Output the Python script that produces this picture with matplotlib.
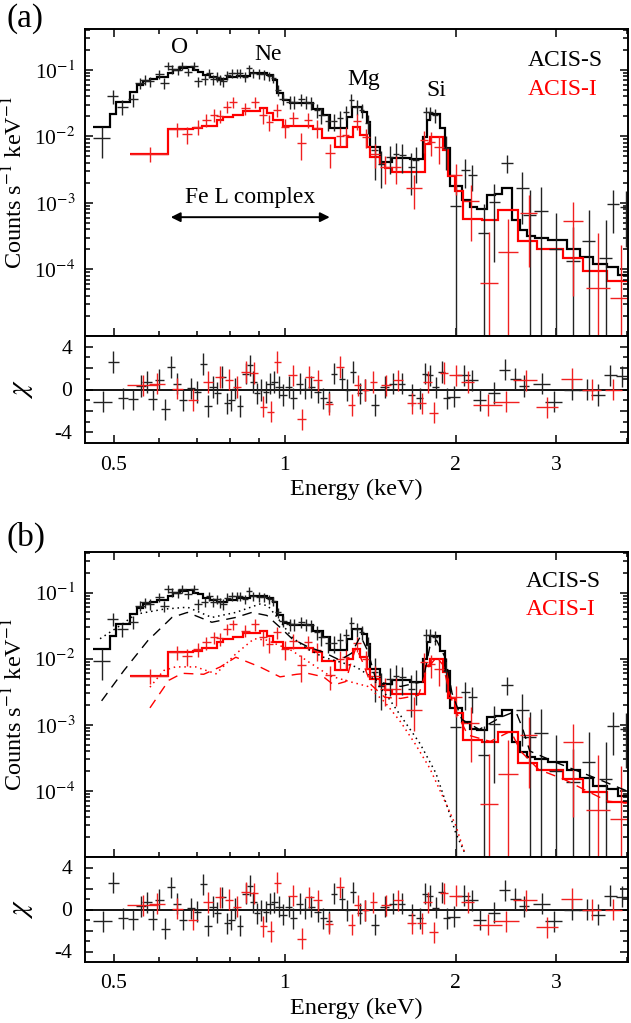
import numpy as np
import matplotlib
matplotlib.use('Agg')
import matplotlib.pyplot as plt
from matplotlib.ticker import FixedLocator, FixedFormatter, NullFormatter, LogLocator

plt.rcParams['font.family'] = ['Liberation Serif', 'DejaVu Serif']
plt.rcParams['mathtext.fontset'] = 'stix'

# ---------------- ACIS-S (black) spectrum ----------------
E_s = [0.476, 0.498, 0.518, 0.541, 0.556, 0.567, 0.578, 0.601, 0.614, 0.624, 0.634, 0.648, 0.660,
       0.675, 0.693, 0.704, 0.723, 0.737, 0.749, 0.760, 0.768, 0.780, 0.792, 0.807, 0.823, 0.835,
       0.851, 0.866, 0.880, 0.900, 0.920, 0.940, 0.955, 0.974, 0.993, 1.02, 1.04, 1.07, 1.09, 1.11,
       1.14, 1.16, 1.19, 1.22, 1.25, 1.28, 1.31, 1.34, 1.365, 1.40, 1.44, 1.48, 1.53, 1.57, 1.61,
       1.67, 1.70, 1.77, 1.80, 1.84, 1.92, 2.00, 2.08, 2.14, 2.24, 2.34, 2.46, 2.62, 2.70, 2.83,
       3.00, 3.22, 3.43, 3.67, 3.78, 3.98]
C_s = [0.0093, 0.040, 0.028, 0.036, 0.063, 0.071, 0.067, 0.086, 0.063, 0.115, 0.102, 0.098, 0.115,
       0.094, 0.115, 0.067, 0.072, 0.089, 0.072, 0.079, 0.071, 0.067, 0.084, 0.089, 0.089, 0.089,
       0.079, 0.105, 0.088, 0.087, 0.085, 0.080, 0.075, 0.050, 0.037, 0.033, 0.033, 0.036, 0.033,
       0.032, 0.025, 0.021, 0.017, 0.017, 0.019, 0.023, 0.035, 0.028, 0.025, 0.016, 0.0062, 0.0039,
       0.0049, 0.0055, 0.0052, 0.0035, 0.0044, 0.023, 0.023, 0.021, 0.0066, 0.00091, 0.0031, 0.0026,
       0.00035, 0.00103, 0.0040, 0.00168, 0.00065, 0.00076, 0.0002, 0.000135, 0.00027, 0.00015,
       0.00095, 0.00087]
S_s = [0.0045, 0.009, 0.007, 0.008, 0.011, 0.012, 0.012, 0.014, 0.012, 0.016, 0.015, 0.015, 0.016,
       0.014, 0.016, 0.012, 0.012, 0.014, 0.012, 0.013, 0.012, 0.012, 0.013, 0.014, 0.014, 0.014,
       0.013, 0.015, 0.014, 0.014, 0.014, 0.013, 0.012, 0.009, 0.007, 0.007, 0.007, 0.007, 0.007,
       0.007, 0.006, 0.0055, 0.005, 0.005, 0.005, 0.0055, 0.008, 0.007, 0.006, 0.005, 0.004, 0.0022,
       0.0022, 0.0024, 0.0024, 0.0022, 0.0024, 0.005, 0.005, 0.005, 0.0035, 0.00095, 0.0014, 0.0011,
       0.0006, 0.0009, 0.0012, 0.0012, 0.0009, 0.001, 0.0005, 0.0003, 0.0005, 0.0004, 0.0006, 0.00065]
W_s = [0.016] + [0.011] * 33 + [0.015] * 16 + [0.022] * 11 + [0.045, 0.04, 0.04, 0.05, 0.05, 0.06,
       0.07, 0.07, 0.08, 0.08, 0.09, 0.09, 0.09, 0.09, 0.09]

# model histogram (ACIS-S)
edges_s = [0.460, 0.4925, 0.505, 0.534, 0.549, 0.564, 0.579, 0.595, 0.624, 0.636, 0.654, 0.672, 0.690,
           0.704, 0.719, 0.739, 0.759, 0.790, 0.823, 0.869, 0.929, 0.955, 0.968, 0.994, 1.022, 1.123,
           1.169, 1.201, 1.286, 1.312, 1.366, 1.394, 1.413, 1.472, 1.543, 1.662, 1.754, 1.778, 1.802,
           1.876, 1.915, 1.954, 2.049, 2.120, 2.178, 2.268, 2.346, 2.410, 2.509, 2.596, 2.667, 2.758,
           2.911, 3.136, 3.310, 3.494, 3.688, 3.866, 4.02]
model_s = [0.014, 0.0217, 0.033, 0.047, 0.059, 0.067, 0.072, 0.078, 0.089, 0.098, 0.106, 0.110, 0.100,
           0.094, 0.084, 0.077, 0.072, 0.078, 0.082, 0.089, 0.084, 0.071, 0.045, 0.035, 0.032, 0.026,
           0.021, 0.0135, 0.0198, 0.028, 0.0235, 0.0167, 0.007, 0.0041, 0.0048, 0.0045, 0.0099, 0.0176,
           0.0217, 0.0132, 0.0066, 0.0018, 0.0011, 0.00087, 0.00082, 0.0013, 0.00138, 0.00166, 0.00055,
           0.00039, 0.00032, 0.0003, 0.000275, 0.000206, 0.000154, 0.00012, 0.000107, 8.3e-5]

# ---------------- ACIS-I (red) spectrum ----------------
E_i = [0.579, 0.645, 0.673, 0.703, 0.728, 0.750, 0.768, 0.792, 0.81, 0.852, 0.887, 0.916, 0.94, 0.97,
       1.0, 1.036, 1.07, 1.10, 1.14, 1.20, 1.25, 1.28, 1.34, 1.39, 1.44, 1.50, 1.57, 1.69, 1.76, 1.81,
       1.87, 2.0, 2.13, 2.29, 2.47, 2.69, 3.22, 3.56, 3.9]
C_i = [0.0055, 0.0127, 0.0108, 0.014, 0.0176, 0.021, 0.0203, 0.028, 0.033, 0.0265, 0.033, 0.021,
       0.0167, 0.025, 0.014, 0.0187, 0.0079, 0.0178, 0.0133, 0.0056, 0.010, 0.0105, 0.017, 0.0099,
       0.0055, 0.0035, 0.0035, 0.0017, 0.0088, 0.0083, 0.007, 0.0026, 0.00107, 6.3e-5, 1.8e-4, 7.1e-4,
       5.4e-4, 5.2e-5, 3.7e-5]
S_i = [0.0014, 0.003, 0.003, 0.0035, 0.004, 0.0045, 0.0045, 0.0055, 0.006, 0.0055, 0.0065, 0.0055,
       0.0045, 0.0055, 0.0045, 0.0045, 0.0035, 0.0045, 0.004, 0.0022, 0.0032, 0.0032, 0.0045, 0.0032,
       0.0022, 0.0016, 0.0016, 0.0009, 0.0032, 0.0032, 0.0032, 0.0013, 0.0008, 0.0003, 0.0004, 0.0006,
       0.0005, 0.0003, 0.0002]
W_i = [0.045, 0.02, 0.013, 0.013, 0.013, 0.012, 0.012, 0.012, 0.013, 0.015, 0.015, 0.015, 0.015,
       0.016, 0.016, 0.018, 0.018, 0.018, 0.02, 0.025, 0.02, 0.02, 0.02, 0.025, 0.03, 0.03, 0.03, 0.055,
       0.03, 0.03, 0.04, 0.05, 0.07, 0.08, 0.1, 0.09, 0.13, 0.17, 0.17]

edges_i = [0.534, 0.624, 0.690, 0.714, 0.759, 0.780, 0.812, 0.846, 0.904, 0.929, 0.955, 0.994, 1.123,
           1.161, 1.226, 1.286, 1.320, 1.357, 1.394, 1.413, 1.472, 1.502, 1.543, 1.766, 1.802, 1.902,
           1.941, 1.99, 2.063, 2.223, 2.377, 2.577, 2.777, 3.093, 3.355, 3.688, 4.02]
model_i = [0.0055, 0.0127, 0.0132, 0.0143, 0.0176, 0.0198, 0.021, 0.0243, 0.0264, 0.0222, 0.0176,
           0.0143, 0.0127, 0.0093, 0.0068, 0.0099, 0.014, 0.0105, 0.007, 0.0049, 0.0039, 0.0033, 0.0029,
           0.0078, 0.0099, 0.0062, 0.0025, 0.0015, 0.00058, 0.00055, 0.00079, 0.000266, 0.000206,
           0.00015, 9.5e-5, 6.8e-5]

# ---------------- residuals (chi) ----------------
Er_s = [0.478, 0.499, 0.519, 0.541, 0.558, 0.572, 0.586, 0.601, 0.616, 0.631, 0.647, 0.663, 0.683,
        0.702, 0.719, 0.733, 0.748, 0.761, 0.776, 0.792, 0.805, 0.819, 0.835, 0.853, 0.868, 0.881,
        0.895, 0.910, 0.928, 0.942, 0.959, 0.977, 0.993, 1.016, 1.036, 1.062, 1.087, 1.114, 1.142,
        1.170, 1.196, 1.223, 1.259, 1.289, 1.320, 1.354, 1.387, 1.442, 1.499, 1.553, 1.606, 1.672,
        1.727, 1.766, 1.799, 1.844, 1.888, 1.927, 1.983, 2.064, 2.132, 2.203, 2.333, 2.438, 2.547,
        2.635, 2.834, 2.974, 3.203, 3.40, 3.56, 3.74, 3.93]
chi_s = [-1.14, 2.56, -0.83, -0.93, 0.31, 0.71, -0.93, 0.93, -1.85, 2.1, 0.56, -0.99, 0.1, -0.22, 2.4,
         -1.54, 0.25, -0.31, 1.17, -1.3, -0.99, 0.09, -1.54, 1.48, 2.25, 0.71, -0.37, -0.06, -0.22,
         0.56, 0.71, 0.25, -0.52, 0.25, -0.83, 0.56, 0.09, 0.25, -0.22, -0.83, -1.14, 1.48, 1.02,
         -0.06, 1.64, -0.37, -0.06, -1.45, 0.25, 0.56, 0.56, -0.52, -0.83, 1.48, 1.33, 0.19, 1.64,
         -0.83, -0.68, 1.33, 0.86, -0.99, -0.31, 1.85, 1.02, 0.31, 0.56, -1.14, 0.0, 0.0, -0.52, 1.33,
         1.23]
Wr_s = [0.018] + [0.011] * 28 + [0.015] * 18 + [0.025] * 11 + [0.05] + [0.055] * 7 + [0.1] * 7

Er_i = [0.563, 0.596, 0.647, 0.690, 0.733, 0.769, 0.798, 0.824, 0.853, 0.883, 0.917, 0.944, 0.970,
        1.032, 1.072, 1.105, 1.142, 1.196, 1.250, 1.312, 1.343, 1.387, 1.432, 1.507, 1.581, 1.672,
        1.742, 1.786, 1.828, 1.905, 2.0, 2.098, 2.279, 2.455, 2.654, 2.90, 3.20, 3.47, 3.79]
chi_i = [0.4, 0.56, 0.09, -0.99, 0.71, 1.17, 0.93, 0.25, 1.64, 1.54, -1.6, -2.07, 2.56, 1.33, -2.78,
         1.17, 0.86, -1.36, 2.1, -1.45, 0.4, -0.06, 0.71, 0.4, 0.86, -1.3, -1.3, 0.71, -2.16, 1.54,
         1.33, 0.71, -1.45, -1.14, 0.86, -1.67, 1.02, 0.0, 0.0]
Wr_i = [0.035, 0.02] + [0.014] * 11 + [0.02] * 10 + [0.032] * 7 + [0.055] * 2 + [0.13] * 7

# ---------------- two-component model (panel b) ----------------
E_dot_s = [0.473, 0.513, 0.547, 0.612, 0.674, 0.744, 0.82, 0.904, 0.934, 0.981, 1.03, 1.097, 1.17,
           1.25, 1.335, 1.42, 1.52, 1.62, 1.73, 1.845, 1.94, 2.0, 2.07]
V_dot_s = [0.020, 0.0316, 0.047, 0.056, 0.060, 0.042, 0.050, 0.067, 0.063, 0.037, 0.021, 0.014,
           0.0105, 0.0089, 0.0075, 0.0053, 0.0026, 0.00117, 5.2e-4, 1.86e-4, 5.2e-5, 2.3e-5, 1.2e-5]
E_dash_s = [0.476, 0.521, 0.574, 0.633, 0.674, 0.744, 0.82, 0.875, 0.93, 0.98, 1.03, 1.10, 1.17, 1.25,
            1.31, 1.36, 1.40, 1.45, 1.6, 1.75, 1.80, 1.85, 1.92, 1.97, 2.05, 2.2, 2.4, 2.55, 2.62, 2.7,
            3.0, 3.5, 4.0]
V_dash_s = [0.0023, 0.0066, 0.0187, 0.042, 0.050, 0.0355, 0.042, 0.050, 0.045, 0.030, 0.020, 0.015,
            0.0125, 0.0095, 0.012, 0.022, 0.013, 0.0045, 0.0038, 0.0045, 0.015, 0.019, 0.010, 0.003,
            0.0012, 0.00085, 0.0013, 0.0016, 0.0009, 0.0004, 0.00027, 0.00016, 0.0001]
E_dot_i = [0.579, 0.612, 0.642, 0.697, 0.757, 0.82, 0.883, 0.93, 0.964, 1.03, 1.10, 1.2, 1.3, 1.4,
           1.5, 1.6, 1.7, 1.8, 1.9, 2.0, 2.07]
V_dot_i = [0.0037, 0.0066, 0.0075, 0.0075, 0.0059, 0.0118, 0.020, 0.019, 0.0167, 0.0132, 0.009,
           0.0055, 0.0045, 0.0038, 0.0022, 0.0011, 5e-4, 2.2e-4, 8e-5, 3e-5, 1.2e-5]
E_dash_i = [0.579, 0.625, 0.66, 0.72, 0.77, 0.82, 0.904, 0.981, 1.05, 1.097, 1.17, 1.22, 1.28, 1.31,
            1.335, 1.37, 1.42, 1.5, 1.6, 1.72, 1.78, 1.85, 1.9, 1.95, 2.0, 2.1, 2.3, 2.5, 2.6, 2.8,
            3.1, 3.4, 3.7, 4.0]
V_dash_i = [0.0018, 0.0047, 0.006, 0.0058, 0.0075, 0.0105, 0.0075, 0.0053, 0.0058, 0.006, 0.0053,
            0.004, 0.0045, 0.009, 0.0149, 0.009, 0.004, 0.0026, 0.0025, 0.0028, 0.007, 0.0105, 0.008,
            0.003, 0.0016, 0.0007, 0.00056, 0.0008, 0.0004, 0.00021, 0.00015, 0.0001, 7e-5, 6.5e-5]

y_ticks = [1e-4, 1e-3, 1e-2, 1e-1]
y_ticklabels = ['10$^{-4}$', '10$^{-3}$', '10$^{-2}$', '10$^{-1}$']
x_ticks = [0.5, 1, 2, 3]
x_ticklabels = ['0.5', '1', '2', '3']
x_minor = [0.6, 0.7, 0.8, 0.9, 4]

BLACK_D = '#222222'
RED_D = '#f02020'
RED_M = '#ff0000'

W, H = 631, 1023
fig = plt.figure(figsize=(W / 100, H / 100), dpi=100)


def rect(x0, y0, x1, y1):
    return [x0 / W, 1 - y1 / H, (x1 - x0) / W, (y1 - y0) / H]


def style_axes(ax, main):
    ax.set_xscale('log')
    ax.set_xlim(0.445, 4.02)
    ax.xaxis.set_major_locator(FixedLocator(x_ticks))
    ax.xaxis.set_minor_locator(FixedLocator(x_minor))
    ax.xaxis.set_minor_formatter(NullFormatter())
    for s in ax.spines.values():
        s.set_linewidth(1.4)
    ax.tick_params(which='both', direction='in', right=True, width=1.1, labelsize=15.5)
    ax.tick_params(which='major', length=6)
    ax.tick_params(which='minor', length=3.5)
    if main:
        ax.tick_params(which='both', top=True, labelbottom=False, pad=7)
    else:
        ax.tick_params(which='both', top=False, pad=9)


def draw_data(ax, E, C, S, Wd, color):
    C = np.asarray(C)
    S = np.asarray(S)
    lo = np.where(S >= C, C * (1 - 1e-9), S)
    ax.errorbar(E, C, xerr=Wd, yerr=[lo, S], fmt='none', ecolor=color, elinewidth=1.0, capsize=0)


def draw_main(ax, components):
    ax.set_yscale('log')
    ax.set_ylim(1e-5, 0.41)
    style_axes(ax, True)
    ax.yaxis.set_major_locator(FixedLocator(y_ticks))
    ax.yaxis.set_major_formatter(FixedFormatter(y_ticklabels))
    ax.yaxis.set_minor_locator(LogLocator(base=10, subs=np.arange(2, 10)))
    ax.yaxis.set_minor_formatter(NullFormatter())
    draw_data(ax, E_s, C_s, S_s, W_s, BLACK_D)
    draw_data(ax, E_i, C_i, S_i, W_i, RED_D)
    ax.stairs(model_s, edges_s, baseline=None, color='black', lw=1.6)
    ax.stairs(model_i, edges_i, baseline=None, color=RED_M, lw=1.6)
    if components:
        ax.plot(E_dot_s, V_dot_s, color='black', lw=1.1, ls=(0, (1, 2.5)))
        ax.plot(E_dash_s, V_dash_s, color='black', lw=1.0, ls=(0, (7, 5)))
        ax.plot(E_dot_i, V_dot_i, color=RED_M, lw=1.1, ls=(0, (1, 2.5)))
        ax.plot(E_dash_i, V_dash_i, color=RED_M, lw=1.0, ls=(0, (7, 5)))
    ax.set_ylabel('Counts s$^{-1}$ keV$^{-1}$', fontsize=17.5, labelpad=5)


def draw_res(ax):
    ax.set_ylim(-5, 5)
    style_axes(ax, False)
    ax.yaxis.set_major_locator(FixedLocator([-4, -2, 0, 2, 4]))
    ax.yaxis.set_major_formatter(FixedFormatter(['-4', '', '0', '', '4']))
    ax.yaxis.set_minor_locator(FixedLocator([-3, -1, 1, 3]))
    ax.xaxis.set_major_formatter(FixedFormatter(x_ticklabels))
    ax.axhline(0, color='black', lw=1.3)
    ax.errorbar(Er_s, chi_s, xerr=Wr_s, yerr=1.0, fmt='none', ecolor=BLACK_D, elinewidth=1.0, capsize=0)
    ax.errorbar(Er_i, chi_i, xerr=Wr_i, yerr=1.0, fmt='none', ecolor=RED_D, elinewidth=1.0, capsize=0)
    ax.set_ylabel(r'$\chi$', fontsize=21, labelpad=14)
    ax.set_xlabel('Energy (keV)', fontsize=17.5, labelpad=3)


# ---- panel (a)
ax_a = fig.add_axes(rect(85, 29, 628, 336))
draw_main(ax_a, False)
ax_a.text(0.652, 0.215, 'O', fontsize=17, ha='center', va='center')
ax_a.text(0.936, 0.168, 'Ne', fontsize=17, ha='center', va='center')
ax_a.text(1.375, 0.071, 'Mg', fontsize=17, ha='center', va='center')
ax_a.text(1.845, 0.048, 'Si', fontsize=17, ha='center', va='center')
ax_a.text(0.87, 1.2e-3, 'Fe L complex', fontsize=17, ha='center', va='center')
ax_a.annotate('', xy=(0.63, 6.1e-4), xytext=(1.20, 6.1e-4),
              arrowprops=dict(arrowstyle='<|-|>', color='black', lw=1.4, mutation_scale=14,
                              shrinkA=0, shrinkB=0))
ax_a.text(0.816, 0.896, 'ACIS-S', transform=ax_a.transAxes, fontsize=17, ha='left', va='center')
ax_a.text(0.816, 0.804, 'ACIS-I', transform=ax_a.transAxes, fontsize=17, ha='left', va='center',
          color=RED_M)
ax_ar = fig.add_axes(rect(85, 336, 628, 443))
draw_res(ax_ar)

# ---- panel (b)
ax_b = fig.add_axes(rect(85, 552, 628, 857))
draw_main(ax_b, True)
ax_b.text(0.812, 0.903, 'ACIS-S', transform=ax_b.transAxes, fontsize=17, ha='left', va='center')
ax_b.text(0.812, 0.81, 'ACIS-I', transform=ax_b.transAxes, fontsize=17, ha='left', va='center',
          color=RED_M)
ax_br = fig.add_axes(rect(85, 857, 628, 962))
draw_res(ax_br)

fig.text(6 / W, 1 - 19 / H, '(a)', fontsize=24, ha='left', va='center')
fig.text(7 / W, 1 - 537 / H, '(b)', fontsize=24, ha='left', va='center')

fig.savefig('out.png', dpi=100)
